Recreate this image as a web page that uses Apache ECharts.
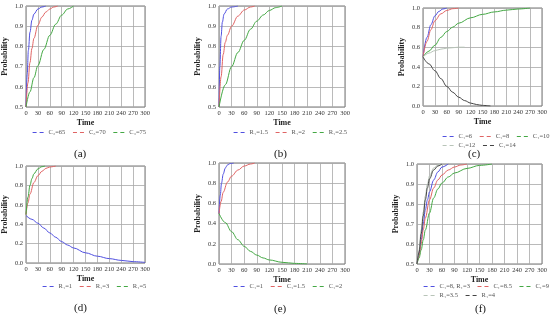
<!DOCTYPE html>
<html><head><meta charset="utf-8">
<script src="https://cdn.jsdelivr.net/npm/echarts@6/dist/echarts.min.js"></script>
<style>html,body{margin:0;background:#fff}#c{width:550px;height:321px}</style>
</head><body><div id="c"></div>
<script>
// ---- data (time, probability) ----
const timeTicks = [0,30,60,90,120,150,180,210,240,270,300];
const panelLabels = ['(a)','(b)','(c)','(d)','(e)','(f)'];

const a_names = ['C\u2083=65','C\u2083=70','C\u2083=75'];
const a_s1 = [[0,0.5],[3,0.66],[6,0.78],[10,0.87],[15,0.93],[20,0.96],[30,0.985],[40,0.995],[50,1.0]];
const a_s2 = [[0,0.5],[5,0.62],[10,0.72],[15,0.79],[20,0.84],[30,0.905],[40,0.945],[50,0.97],[60,0.985],[70,0.995],[80,1.0]];
const a_s3 = [[0,0.5],[10,0.575],[20,0.645],[30,0.705],[45,0.785],[60,0.855],[75,0.91],[90,0.955],[105,0.985],[120,1.0]];

const b_names = ['R\u2081=1.5','R\u2081=2','R\u2081=2.5'];
const b_s1 = [[0,0.5],[2,0.7],[5,0.85],[8,0.92],[12,0.96],[20,0.985],[30,0.995],[45,1.0]];
const b_s2 = [[0,0.5],[5,0.65],[10,0.76],[15,0.82],[20,0.855],[30,0.9],[45,0.95],[60,0.98],[75,0.995],[85,1.0]];
const b_s3 = [[0,0.5],[15,0.61],[30,0.7],[45,0.77],[60,0.83],[75,0.885],[90,0.925],[105,0.955],[120,0.978],[135,0.992],[150,1.0]];

const c_names = ['C\u2081=6','C\u2081=8','C\u2081=10','C\u2081=12','C\u2081=14'];
const c_s1 = [[0,0.5],[10,0.7],[20,0.83],[30,0.92],[40,0.965],[50,0.99],[60,1.0]];
const c_s2 = [[0,0.5],[10,0.66],[20,0.78],[30,0.87],[45,0.94],[60,0.975],[75,0.993],[90,1.0]];
const c_s3 = [[0,0.5],[15,0.56],[30,0.62],[45,0.7],[60,0.76],[75,0.805],[90,0.845],[120,0.9],[150,0.935],[180,0.96],[210,0.978],[240,0.99],[270,1.0]];
const c_s4 = [[0,0.5],[15,0.54],[30,0.565],[45,0.58],[60,0.59],[75,0.595],[90,0.6],[105,0.6]];
const c_s5 = [[0,0.5],[15,0.43],[30,0.36],[45,0.28],[60,0.2],[75,0.14],[90,0.09],[105,0.055],[120,0.03],[135,0.015],[150,0.006],[170,0.0]];

const d_names = ['R\u2081=1','R\u2081=3','R\u2081=5'];
const d_s1 = [[0,0.49],[15,0.45],[30,0.41],[45,0.36],[60,0.31],[75,0.265],[90,0.22],[105,0.185],[120,0.155],[150,0.105],[180,0.07],[210,0.045],[240,0.027],[270,0.014],[300,0.006]];
const d_s2 = [[0,0.5],[5,0.62],[10,0.71],[20,0.83],[30,0.9],[40,0.945],[50,0.975],[60,0.99],[75,1.0]];
const d_s3 = [[0,0.5],[5,0.68],[10,0.8],[15,0.87],[20,0.92],[30,0.97],[40,0.993],[48,1.0]];

const e_names = ['C\u2081=1','C\u2081=1.5','C\u2081=2'];
const e_s1 = [[0,0.5],[3,0.68],[6,0.8],[10,0.89],[15,0.95],[20,0.98],[27,0.995],[35,1.0]];
const e_s2 = [[0,0.5],[5,0.62],[10,0.71],[20,0.81],[30,0.87],[45,0.93],[60,0.97],[75,0.99],[85,1.0]];
const e_s3 = [[0,0.5],[15,0.41],[30,0.32],[45,0.24],[60,0.175],[75,0.125],[90,0.088],[105,0.06],[120,0.04],[150,0.017],[180,0.006],[210,0.0]];

const f_names = ['C\u2081=8, R\u2081=3','C\u2081=8.5','C\u2081=9','R\u2081=3.5','R\u2081=4'];
const f_s1 = [[0,0.5],[5,0.55],[10,0.62],[15,0.7],[20,0.77],[25,0.82],[30,0.86],[40,0.92],[50,0.96],[60,0.985],[75,1.0]];
const f_s2 = [[0,0.5],[5,0.54],[10,0.6],[15,0.67],[20,0.73],[30,0.82],[40,0.88],[50,0.92],[60,0.945],[75,0.97],[90,0.985],[105,0.995],[120,1.0]];
const f_s3 = [[0,0.5],[5,0.53],[10,0.57],[15,0.62],[20,0.67],[30,0.755],[40,0.83],[50,0.875],[60,0.905],[75,0.935],[90,0.955],[120,0.978],[150,0.993],[180,1.0]];
const f_s4 = [[0,0.5],[5,0.57],[10,0.67],[15,0.76],[20,0.84],[25,0.9],[30,0.94],[40,0.98],[50,0.995],[60,1.0]];
const f_s5 = [[0,0.5],[5,0.56],[10,0.65],[15,0.74],[20,0.82],[25,0.88],[30,0.925],[40,0.97],[50,0.99],[60,1.0]];

// ---- layout / style ----
const SERIF = '"Liberation Serif","DejaVu Serif",serif';
const COLORS = ['#5050e0','#e06464','#44a844','#b8c4b8','#444444'];
const grids = [
  {left:22, top:6, width:123, height:101},
  {left:219, top:6, width:126, height:101},
  {left:423, top:8, width:119, height:98},
  {left:25, top:166, width:120, height:97},
  {left:219, top:163, width:126, height:101},
  {left:417, top:164, width:125, height:100}
];
const yRanges = [[0.5,1,0.1],[0.5,1,0.1],[0,1,0.2],[0,1,0.2],[0,1,0.2],[0.5,1,0.1]];
const labelPos = [[82,149],[282,149],[476,149],[82,303],[282,304],[483,304]];

const panels = [
  {names:a_names, data:[a_s1,a_s2,a_s3], colors:[0,1,2]},
  {names:b_names, data:[b_s1,b_s2,b_s3], colors:[0,1,2]},
  {names:c_names, data:[c_s1,c_s2,c_s3,c_s4,c_s5], colors:[0,1,2,3,4]},
  {names:d_names, data:[d_s1,d_s2,d_s3], colors:[0,1,2]},
  {names:e_names, data:[e_s1,e_s2,e_s3], colors:[0,1,2]},
  {names:f_names, data:[f_s1,f_s2,f_s3,f_s4,f_s5], colors:[0,1,2,3,4]}
];
const legendRows = [
  [{p:0, from:0, to:3, left:32, top:129}],
  [{p:1, from:0, to:3, left:233, top:129}],
  [{p:2, from:0, to:3, left:442, top:133},{p:2, from:3, to:5, left:442, top:142}],
  [{p:3, from:0, to:3, left:42, top:283}],
  [{p:4, from:0, to:3, left:233, top:283}],
  [{p:5, from:0, to:3, left:423, top:283},{p:5, from:3, to:5, left:423, top:292}]
];

const option = {
  animation:false,
  backgroundColor:'#fff',
  grid: grids.map(g => Object.assign({show:true, borderColor:'#777', borderWidth:1, backgroundColor:'#fff', containLabel:false}, g)),
  xAxis: grids.map((g,i) => ({
    type:'value', gridIndex:i, min:0, max:300, interval:30,
    name:'Time', nameLocation:'middle', nameGap:12,
    nameTextStyle:{fontFamily:SERIF, fontWeight:'bold', fontSize:8, color:'#222'},
    axisLine:{show:false}, axisTick:{show:false},
    axisLabel:{fontFamily:SERIF, fontSize:6.5, color:'#333', margin:3, formatter: v => timeTicks.includes(v) ? String(v) : ''},
    splitLine:{show:true, lineStyle:{color:'#a8a8a8', width:0.8}}
  })),
  yAxis: grids.map((g,i) => ({
    type:'value', gridIndex:i, min:yRanges[i][0], max:yRanges[i][1], interval:yRanges[i][2],
    name:'Probability', nameLocation:'middle', nameGap:17, nameRotate:90,
    nameTextStyle:{fontFamily:SERIF, fontWeight:'bold', fontSize:8, color:'#222'},
    axisLine:{show:false}, axisTick:{show:false},
    axisLabel:{fontFamily:SERIF, fontSize:6.5, color:'#333', margin:3, formatter: v => v.toFixed(1)},
    splitLine:{show:true, lineStyle:{color:'#a8a8a8', width:0.8}}
  })),
  legend: [],
  series: [],
  graphic: labelPos.map((p,i) => ({
    type:'text', left:p[0]-8, top:p[1], style:{text:panelLabels[i], font:'11px '+SERIF, fill:'#111'}
  }))
};
panels.forEach((p,i) => {
  p.data.forEach((d,k) => {
    const col = COLORS[p.colors[k]];
    option.series.push({
      type:'line', name:p.names[k], data:d, xAxisIndex:i, yAxisIndex:i,
      symbol:'none', showSymbol:false, symbolSize:0, smooth:0.35, smoothMonotone:'x',
      lineStyle:{width:1, color:col}, itemStyle:{color:col}
    });
  });
});
legendRows.forEach(rows => rows.forEach(r => {
  const pn = panels[r.p];
  const items = [];
  for (let k = r.from; k < r.to; k++) {
    const col = COLORS[pn.colors[k]];
    items.push({name:pn.names[k], itemStyle:{color:col, opacity:0}, lineStyle:{color:col, type:[4,3], width:1.2, opacity:1}});
  }
  option.legend.push({
    data:items, left:r.left, top:r.top, width:200, orient:'horizontal',
    itemWidth:13, itemHeight:6, itemGap:7, padding:0,
    textStyle:{fontFamily:SERIF, fontSize:6.5, color:'#555', padding:[0,0,0,-2]}
  });
}));
const chart = echarts.init(document.getElementById('c'), null, {renderer:'canvas'});
chart.setOption(option);
</script>
</body></html>
